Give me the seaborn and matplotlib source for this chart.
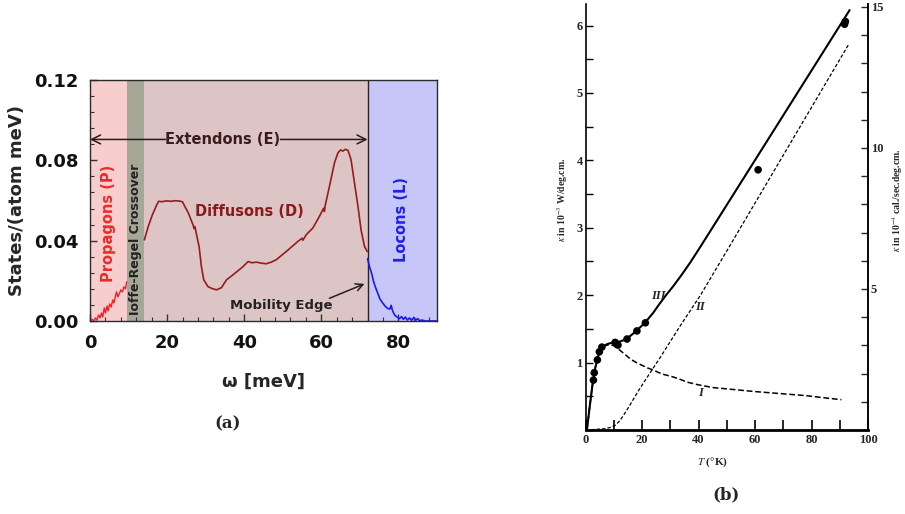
import matplotlib
matplotlib.use("Agg")
import matplotlib.pyplot as plt
from matplotlib.ticker import MultipleLocator
import seaborn as sns

# ---------------- (a) vibrational density of states ----------------
prop_w = [0, 0.6, 1.0, 1.4, 1.8, 2.2, 2.6, 3.0, 3.3, 3.7, 4.0, 4.4, 4.7, 5.1, 5.5,
          5.9, 6.2, 6.6, 6.9, 7.2, 7.6, 8.0, 8.4, 8.8, 9.2, 9.5]
prop_g = [0, 0.0008, 0.0, 0.0015, 0.0005, 0.003, 0.0015, 0.004, 0.002, 0.0065, 0.004,
          0.0075, 0.005, 0.0085, 0.007, 0.0105, 0.009, 0.0125, 0.0145, 0.012, 0.0135,
          0.0155, 0.0145, 0.017, 0.016, 0.0195]

diff_w = [14.1, 15.1, 16.2, 17.3, 17.8, 18.6, 19.8, 21.0, 22.0, 23.3, 24.0, 24.6,
          25.5, 26.8, 27.0, 27.2, 28.3, 28.9, 29.5, 30.6, 31.6, 32.8, 34.1, 35.4,
          37.1, 39.7, 41.0, 42.0, 43.1, 44.5, 45.7, 47.0, 48.3, 50.9, 53.9, 55.0,
          55.2, 56.1, 57.8, 59.5, 60.6, 60.8, 61.0, 62.1, 63.4, 64.3, 65.0, 65.6,
          66.2, 66.9, 67.7, 68.6, 69.5, 70.3, 71.2, 71.9]
diff_g = [0.0404, 0.047, 0.053, 0.0578, 0.0596, 0.0594, 0.0598, 0.0596, 0.0599, 0.0597,
          0.0593, 0.057, 0.0538, 0.0475, 0.046, 0.047, 0.037, 0.027, 0.0205, 0.0171,
          0.0162, 0.0155, 0.0166, 0.0205, 0.023, 0.0271, 0.0296, 0.029, 0.0293,
          0.0288, 0.0285, 0.0293, 0.0305, 0.0346, 0.0396, 0.0412, 0.0402, 0.043,
          0.0463, 0.0521, 0.0562, 0.0545, 0.0575, 0.067, 0.0787, 0.0837, 0.0852,
          0.0846, 0.0855, 0.085, 0.0804, 0.0687, 0.0571, 0.0454, 0.0371, 0.0346]

loc_w = [72.0, 72.5, 73.0, 73.5, 74.0, 74.6, 75.2, 75.9, 76.5, 77.2, 77.8, 78.1,
         78.5, 79.0, 79.6, 80.3, 80.8, 81.3, 81.8, 82.3, 82.9, 83.4, 84.0, 84.5,
         85.0, 85.5, 86.0, 87.0, 90.0]
loc_g = [0.031, 0.027, 0.024, 0.020, 0.017, 0.014, 0.011, 0.009, 0.0075, 0.0062,
         0.006, 0.0078, 0.005, 0.003, 0.002, 0.0012, 0.0022, 0.0008, 0.002, 0.0005,
         0.0015, 0.0003, 0.0018, 0.0004, 0.0012, 0.0, 0.0005, 0.0, 0.0]

region_edges = [0, 9.5, 14, 72, 90]
region_fill = ["#f7cdcd", "#a5a797", "#dec5c5", "#c6c6f8"]

# ---------------- (b) thermal conductivity ----------------
meas_T = [2.8, 3.1, 4.2, 4.9, 5.8, 10.5, 11.5, 14.7, 18.2, 21.2, 61.1, 91.7, 92.0]
meas_k = [0.74, 0.85, 1.04, 1.16, 1.23, 1.30, 1.26, 1.35, 1.47, 1.59, 3.86, 6.02, 6.06]

total_T = [0.5, 1.5, 2.5, 3.5, 4.5, 5.5, 6.5, 8.0, 10.0, 12.0, 14.0, 16.0, 18.0, 20.0,
           22.0, 24.0, 26.0, 28.5, 31.0, 34.0, 37.0, 40.7, 93.5]
total_k = [0.0, 0.35, 0.68, 0.93, 1.10, 1.20, 1.25, 1.28, 1.30, 1.31, 1.34, 1.40, 1.47,
           1.55, 1.64, 1.74, 1.86, 2.00, 2.13, 2.30, 2.48, 2.72, 6.23]

lattice_T = [0.0, 4.0, 7.0, 9.0, 10.5, 12.0, 13.5, 15.0, 17.0, 19.0, 21.8, 26.5, 33.6,
             40.7, 50.2, 93.0]
lattice_k = [0.0, 0.01, 0.02, 0.04, 0.07, 0.13, 0.22, 0.32, 0.46, 0.60, 0.78, 1.08,
             1.55, 2.00, 2.67, 5.71]

electron_T = [0.5, 1.5, 2.5, 3.5, 4.5, 5.5, 7.0, 8.5, 10.0, 12.0, 14.0, 16.0, 18.0,
              20.0, 22.0, 24.0, 26.0, 28.0, 30.0, 33.0, 36.0, 40.0, 45.0, 50.0, 55.0,
              60.0, 66.0, 72.0, 78.0, 84.0, 90.6]
electron_k = [0.0, 0.35, 0.68, 0.93, 1.10, 1.19, 1.25, 1.27, 1.25, 1.19, 1.12, 1.05,
              1.00, 0.96, 0.92, 0.89, 0.85, 0.82, 0.80, 0.76, 0.71, 0.67, 0.63, 0.61,
              0.59, 0.57, 0.55, 0.53, 0.51, 0.48, 0.45]

W_TO_CAL = 2.39

sns.set_theme(style="ticks")
plt.rcParams["font.family"] = ["DejaVu Sans"]
plt.rcParams["mathtext.fontset"] = "stix"

fig = plt.figure(figsize=(9.05, 5.14), dpi=100)

# ===== panel (a) =====
ax = fig.add_axes([90 / 905, 1 - 321 / 514, 347 / 905, 241 / 514])
for lo, hi, col in zip(region_edges[:-1], region_edges[1:], region_fill):
    ax.axvspan(lo, hi, color=col, lw=0, zorder=0)
ax.axvline(72, color="#2b2222", lw=1.0, zorder=1)

sns.lineplot(x=prop_w, y=prop_g, ax=ax, color="#ee2222", lw=1.0, sort=False, estimator=None)
sns.lineplot(x=diff_w, y=diff_g, ax=ax, color="#951c1c", lw=1.2, sort=False, estimator=None)
sns.lineplot(x=loc_w, y=loc_g, ax=ax, color="#1a1af0", lw=1.2, sort=False, estimator=None)

ax.set_xlim(0, 90)
ax.set_ylim(0, 0.12)
ax.set_xticks([0, 20, 40, 60, 80])
ax.set_yticks([0, 0.04, 0.08, 0.12])
ax.set_yticklabels(["0.00", "0.04", "0.08", "0.12"])
ax.xaxis.set_minor_locator(MultipleLocator(4))
ax.yaxis.set_minor_locator(MultipleLocator(0.008))
ax.tick_params(which="both", direction="in", color="#333333", labelsize=13)
ax.tick_params(which="major", length=5, width=1)
ax.tick_params(which="minor", length=3, width=0.8)
ax.tick_params(axis="x", pad=9)
ax.tick_params(axis="y", pad=8)
for lab in ax.get_xticklabels() + ax.get_yticklabels():
    lab.set_fontweight("bold")
    lab.set_color("#111111")
for sp in ax.spines.values():
    sp.set_color("#2b2b2b")
    sp.set_linewidth(1.0)
ax.set_xlabel("ω [meV]", fontsize=13, fontweight="bold", labelpad=15)
ax.set_ylabel("States/(atom meV)", fontsize=13, fontweight="bold", labelpad=6)

arrow_kw = dict(arrowstyle="->", color="#2b1a1a", lw=1.1, mutation_scale=16,
                shrinkA=0, shrinkB=0)
ax.annotate("", xy=(0, 0.0904), xytext=(19.6, 0.0904), arrowprops=arrow_kw)
ax.annotate("", xy=(72, 0.0904), xytext=(49.4, 0.0904), arrowprops=arrow_kw)
ax.text(34.5, 0.0904, "Extendons (E)", ha="center", va="center", fontsize=10.5,
        fontweight="bold", color="#3a1c1c")
ax.text(41.4, 0.0546, "Diffusons (D)", ha="center", va="center", fontsize=10.5,
        fontweight="bold", color="#8a1a1a")
ax.text(4.7, 0.0488, "Propagons (P)", ha="center", va="center", rotation=90,
        fontsize=10.5, fontweight="bold", color="#ee2a2a")
ax.text(11.8, 0.0405, "Ioffe-Regel Crossover", ha="center", va="center", rotation=90,
        fontsize=9, fontweight="bold", color="#222222")
ax.text(80.7, 0.0504, "Locons (L)", ha="center", va="center", rotation=90,
        fontsize=10.5, fontweight="bold", color="#2020e8")
ax.text(49.6, 0.0075, "Mobility Edge", ha="center", va="center", fontsize=9.5,
        fontweight="bold", color="#222222")
ax.annotate("", xy=(71.2, 0.0185), xytext=(62.1, 0.0113),
            arrowprops=dict(arrowstyle="->", color="#222222", lw=1.1,
                            mutation_scale=13, shrinkA=0, shrinkB=0))

fig.text(228 / 905, 1 - 424 / 514, "(a)", ha="center", va="center",
         fontsize=12, family="DejaVu Serif", fontweight="bold")

# ===== panel (b) =====
SERIF = ["Liberation Serif", "DejaVu Serif"]
bx = fig.add_axes([585.5 / 905, 1 - 430 / 514, 282.5 / 905, 426 / 514])
bx.set_facecolor("white")

sns.lineplot(x=total_T, y=total_k, ax=bx, color="black", lw=1.5, sort=False, estimator=None)
sns.lineplot(x=lattice_T, y=lattice_k, ax=bx, color="black", lw=0.9, sort=False,
             estimator=None, linestyle=(0, (2.8, 1.6)))
sns.lineplot(x=electron_T, y=electron_k, ax=bx, color="black", lw=1.1, sort=False,
             estimator=None, linestyle=(0, (3.8, 1.8)))
sns.scatterplot(x=meas_T, y=meas_k, ax=bx, color="black", s=30, edgecolor="none", zorder=5)

bx.set_xlim(0, 100)
bx.set_ylim(0, 6.32)
bx.spines["top"].set_visible(False)
bx.spines["bottom"].set_linewidth(2.0)
bx.spines["left"].set_linewidth(1.2)
bx.spines["right"].set_linewidth(1.2)
for sp in bx.spines.values():
    sp.set_color("black")
bx.set_xticks([0, 20, 40, 60, 80, 100])
bx.xaxis.set_minor_locator(MultipleLocator(10))
bx.set_yticks([1, 2, 3, 4, 5, 6])
bx.yaxis.set_minor_locator(MultipleLocator(0.5))
bx.tick_params(which="both", direction="in", color="black", labelsize=9)
bx.tick_params(axis="x", which="both", length=7, width=1.2, pad=3)
bx.tick_params(axis="y", which="both", length=5, width=1.0, pad=2)
for lab in bx.get_xticklabels() + bx.get_yticklabels():
    lab.set_fontweight("bold")
    lab.set_family(SERIF)

sec = bx.secondary_yaxis("right", functions=(lambda k: k * W_TO_CAL,
                                             lambda c: c / W_TO_CAL))
sec.set_yticks([5, 10, 15])
sec.yaxis.set_minor_locator(MultipleLocator(1))
sec.tick_params(which="both", direction="in", length=5, width=1.0, labelsize=9, pad=2)
sec.spines["right"].set_linewidth(1.2)
for lab in sec.get_yticklabels():
    lab.set_fontweight("bold")
    lab.set_family(SERIF)

fig.text(713 / 905, 1 - 462 / 514, r"$T$ (°K)", ha="center", va="center",
         fontsize=8, family=SERIF, fontweight="bold")
fig.text(563 / 905, 1 - 200 / 514, r"$\kappa$ in 10$^{-3}$ W/deg.cm.", ha="center",
         va="center", rotation=90, fontsize=7, family=SERIF, fontweight="bold")
fig.text(898 / 905, 1 - 200 / 514, r"$\kappa$ in 10$^{-4}$ cal./sec.deg.cm.",
         ha="center", va="center", rotation=90, fontsize=7, family=SERIF,
         fontweight="bold")

bx.text(25.8, 1.99, "III", ha="center", va="center", fontsize=9,
        family=SERIF, fontweight="bold", style="italic")
bx.text(40.7, 1.82, "II", ha="center", va="center", fontsize=9,
        family=SERIF, fontweight="bold", style="italic")
bx.text(40.7, 0.55, "I", ha="center", va="center", fontsize=9,
        family=SERIF, fontweight="bold", style="italic")

fig.text(726 / 905, 1 - 495 / 514, "(b)", ha="center", va="center",
         fontsize=12, family="DejaVu Serif", fontweight="bold")

fig.savefig("out.png", dpi=100, facecolor="white")
